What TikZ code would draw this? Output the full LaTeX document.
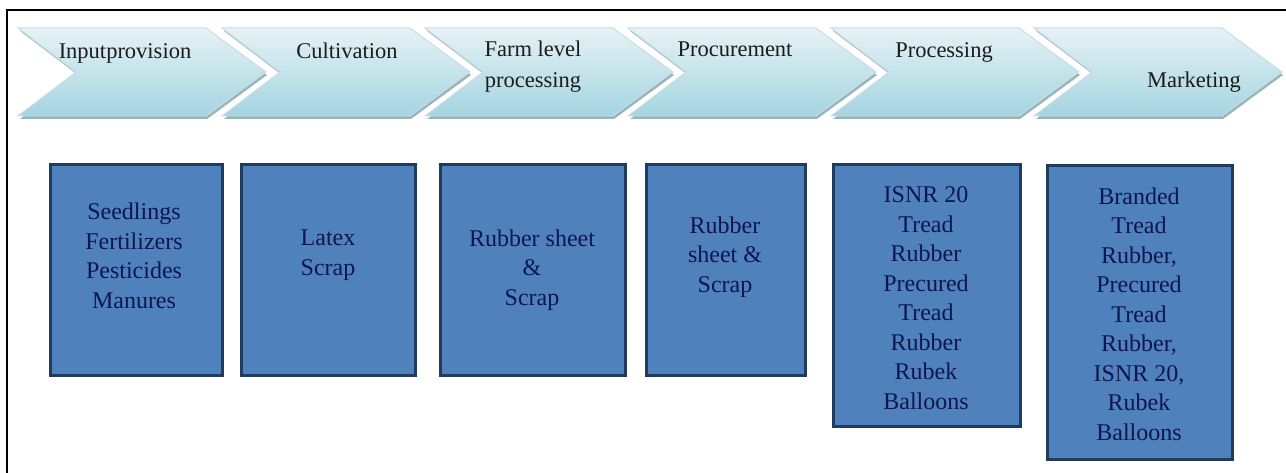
\documentclass[tikz,border=0pt]{standalone}
\usepackage{fontspec}
\setmainfont{Liberation Serif}
\definecolor{boxblue}{HTML}{4F81BD}
\definecolor{boxedge}{HTML}{1F3B5E}
\definecolor{boxtext}{HTML}{0E1650}
\definecolor{chevtop}{HTML}{E6F2F5}
\definecolor{chevmid}{HTML}{F6FBFC}
\definecolor{chevbot}{HTML}{A4D4E1}
\definecolor{chevline}{HTML}{C9DDE2}
\definecolor{chevshade}{HTML}{98B4BC}
\definecolor{chevtext}{HTML}{1C1C1C}
\begin{document}
\begin{tikzpicture}[x=1pt,y=-1pt,
  chevshape/.style={top color=chevtop,middle color=chevmid,bottom color=chevbot,draw=chevline,line width=1pt},
  chevshadow/.style={fill=chevshade},
  chevlabel/.style={font=\fontsize{22.5}{31}\selectfont,text=chevtext,inner sep=0pt,align=center},
  bx/.style={draw=boxedge,line width=3pt,fill=boxblue,inner sep=0pt},
  bt/.style={font=\fontsize{24}{29.5}\selectfont,text=boxtext,inner sep=0pt,align=center},
  frameline/.style={line width=2pt,black}]
\useasboundingbox (0,0) rectangle (1286,473);
% frame
\coordinate (fbl) at (7,473);
\coordinate (ftl) at (7,10);
\coordinate (ftr) at (1286,10);
\draw[frameline] (fbl) -- (ftl) -- (ftr);
% chevrons
\foreach \i/\L in {1/18,2/222,3/425,4/628,5/831,6/1034}{
  \fill[chevshadow] (\L+2,31) -- (\L+189,31) -- (\L+249,75) -- (\L+189,119) -- (\L+2,119) -- (\L+60,75) -- cycle;
  \path[chevshape] (\L,28) -- (\L+188,28) -- (\L+248,72) -- (\L+188,116) -- (\L,116) -- (\L+58,72) -- cycle;
  \coordinate (chev\i) at (\L+124,72);
}
\node[chevlabel,anchor=base] (c1) at (125,59) {Inputprovision};
\node[chevlabel,anchor=base] (c2) at (347,59) {Cultivation};
\node[chevlabel,anchor=base] (c3) at (533,88) {Farm level\\processing};
\node[chevlabel,anchor=base] (c4) at (735,57) {Procurement};
\node[chevlabel,anchor=base] (c5) at (944,58) {Processing};
\node[chevlabel,anchor=base] (c6) at (1194,88) {Marketing};
% boxes
\node[bx,minimum width=172pt,minimum height=210pt] (b1) at (136,270) {};
\node[bx,minimum width=174pt,minimum height=210pt] (b2) at (328,270) {};
\node[bx,minimum width=185pt,minimum height=210pt] (b3) at (532.5,270) {};
\node[bx,minimum width=159pt,minimum height=210pt] (b4) at (725.5,270) {};
\node[bx,minimum width=187pt,minimum height=261pt] (b5) at (926.5,295.5) {};
\node[bx,minimum width=185pt,minimum height=293pt] (b6) at (1139.5,312.5) {};
\node[bt] (t1) at (134,256) {Seedlings\\Fertilizers\\Pesticides\\Manures};
\node[bt] (t2) at (328,255) {Latex\\Scrap};
\node[bt] (t3) at (532,270) {Rubber sheet\\\&\\Scrap};
\node[bt] (t4) at (725,257) {Rubber\\sheet \&\\Scrap};
\node[bt] (t5) at (926,298) {ISNR 20\\Tread\\Rubber\\Precured\\Tread\\Rubber\\Rubek\\Balloons};
\node[bt] (t6) at (1139,314) {Branded\\Tread\\Rubber,\\Precured\\Tread\\Rubber,\\ISNR 20,\\Rubek\\Balloons};
\end{tikzpicture}
\end{document}
